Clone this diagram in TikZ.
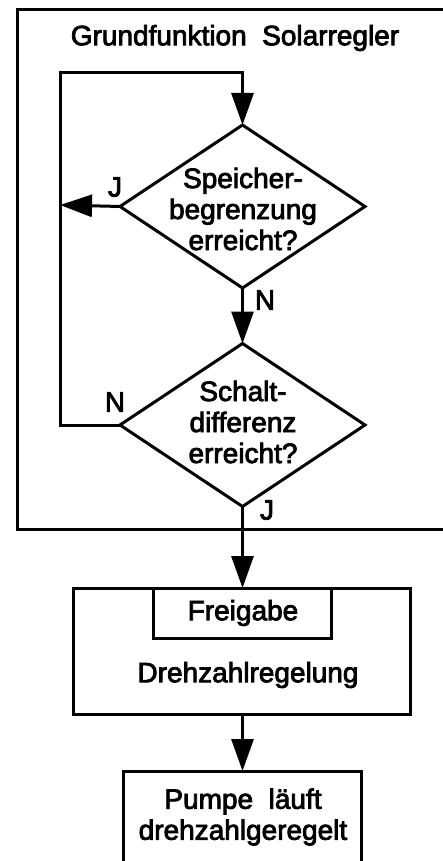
\documentclass[tikz,border=0pt]{standalone}
\usepackage{fontspec}
\setmainfont{Liberation Sans}
\usetikzlibrary{shapes.geometric,arrows.meta}
\newcommand\heavyon{\special{pdf:literal direct 2 Tr 0.8 w}}
\newcommand\heavyoff{\special{pdf:literal direct 0 Tr}}
\begin{document}
\begin{tikzpicture}[x=1pt,y=-1pt,
  line width=3pt,
  txt/.style={font=\fontsize{28}{31}\selectfont, align=center, inner sep=0pt,
    execute at begin node=\heavyon, execute at end node=\heavyoff},
  dec/.style={draw, diamond, aspect=1.5, minimum width=245pt, minimum height=163pt, inner sep=0pt, outer sep=0pt},
  boxx/.style={draw, rectangle, inner sep=0pt, outer sep=0pt},
  arr/.style={-{Triangle[length=32pt,width=22pt]}},
  lbl/.style={txt, font=\fontsize{28}{30}\selectfont}
]
\useasboundingbox (0,0) rectangle (443,861);
\clip (0,0) rectangle (443,861);
% outer frame
\draw (17,10) rectangle (470,529);
\node[txt] (title) at (235,38) {Grundfunktion\ \ Solarregler};
% decisions
\node[dec] (d1) at (242.5,206.5) {};
\node[txt] (t1) at (243,209) {Speicher-\\begrenzung\\erreicht?};
\node[dec] (d2) at (242.5,425) {};
\node[txt] (t2) at (243,422) {Schalt-\\differenz\\erreicht?};
% loop coordinates
\coordinate (lt) at (60,73);
\coordinate (lj) at (60,205);
\coordinate (lb) at (60,425);
\coordinate (rt) at (242.5,73);
% boxes
\node[boxx, minimum width=337pt, minimum height=126pt] (dz) at (241.5,651) {};
\node[boxx, minimum width=178pt, minimum height=50pt] (fg) at (242,613) {};
\node[txt] (fgt) at (243,613) {Freigabe};
\node[txt] (dzt) at (248,675) {Drehzahlregelung};
\node[boxx, minimum width=238pt, minimum height=140pt, anchor=north] (pu) at (242,771) {};
\node[txt] (put) at (243,817) {Pumpe\ \ l\"auft\\drehzahlgeregelt};
% connectors
\draw[arr] (d2.west) -- (lb) -- (lt) -- (rt) -- (d1.north);
\draw[arr] (d1.west) -- (lj);
\draw[arr] (d1.south) -- (d2.north);
\draw[arr] (d2.south) -- (d2.south |- dz.north);
\draw[arr] (dz.south -| d2.south) -- (d2.south |- pu.north);
% labels
\node[lbl] (j1) at (115,187) {J};
\node[lbl] (n1) at (265,300) {N};
\node[lbl] (n2) at (115,402) {N};
\node[lbl] (j2) at (267,510) {J};
\end{tikzpicture}
\end{document}
